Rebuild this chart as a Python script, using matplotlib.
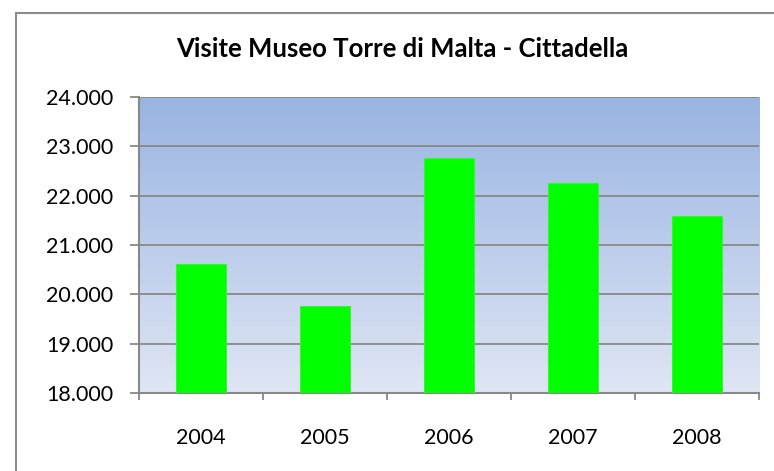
import numpy as np
import matplotlib.pyplot as plt
from matplotlib.ticker import FuncFormatter, FixedLocator
from matplotlib.colors import LinearSegmentedColormap
from matplotlib.lines import Line2D

# dati
anni = ["2004", "2005", "2006", "2007", "2008"]
visite = [20623, 19764, 22772, 22257, 21596]
titolo = "Visite Museo Torre di Malta - Cittadella"

plt.rcParams['font.family'] = ['Lato', 'DejaVu Sans']

fig = plt.figure(figsize=(7.74, 4.71), dpi=100)
ax = fig.add_axes([139/774, 1-393/471, 620/774, 296/471])

# sfondo sfumato
grad = LinearSegmentedColormap.from_list("g", ["#dfe6f4", "#99b4e2"])
ax.imshow(np.linspace(0, 1, 256).reshape(-1, 1), cmap=grad, aspect='auto',
          extent=[0, 1, 0, 1], transform=ax.transAxes, origin='lower', zorder=0)

x = np.arange(len(anni))
ax.bar(x, visite, width=0.4, color="#00ff00", edgecolor="#3cf03c", linewidth=0.8, zorder=3)

ax.set_xlim(-0.5, len(anni)-0.5)
ax.set_ylim(18000, 24000)
ax.set_yticks(np.arange(18000, 24001, 1000))
ax.yaxis.set_major_formatter(FuncFormatter(lambda v, p: f"{int(v):,}".replace(",", ".")))
ax.grid(axis='y', color="#888888", linewidth=1.3, zorder=1)
ax.set_axisbelow(True)

# tacche tra le categorie, etichette al centro
ax.xaxis.set_major_locator(FixedLocator(np.arange(-0.5, len(anni), 1.0)))
ax.xaxis.set_major_formatter(FuncFormatter(lambda v, p: ""))
ax.xaxis.set_minor_locator(FixedLocator(x))
ax.set_xticklabels(anni, minor=True)
ax.tick_params(axis='x', which='major', direction='out', length=5, width=1.3, color="#888888")
ax.tick_params(axis='x', which='minor', length=0, pad=25, labelsize=15.5)
ax.tick_params(axis='y', direction='out', length=6.5, width=1.3, color="#888888", labelsize=15.5, pad=12)

for s in ['top', 'right']:
    ax.spines[s].set_visible(False)
for s in ['left', 'bottom']:
    ax.spines[s].set_color("#888888")
    ax.spines[s].set_linewidth(1.5)

fig.text(402/774, 1-49/471, titolo, ha='center', va='center', fontsize=18.5, fontweight='bold')

# cornice del grafico
fig.add_artist(Line2D([16/774, 16/774], [0, 1-12.5/471], color="#8c8c8c", linewidth=1.5))
fig.add_artist(Line2D([16/774, 1], [1-12.5/471, 1-12.5/471], color="#8c8c8c", linewidth=1.5))

fig.savefig("out.png", dpi=100)
